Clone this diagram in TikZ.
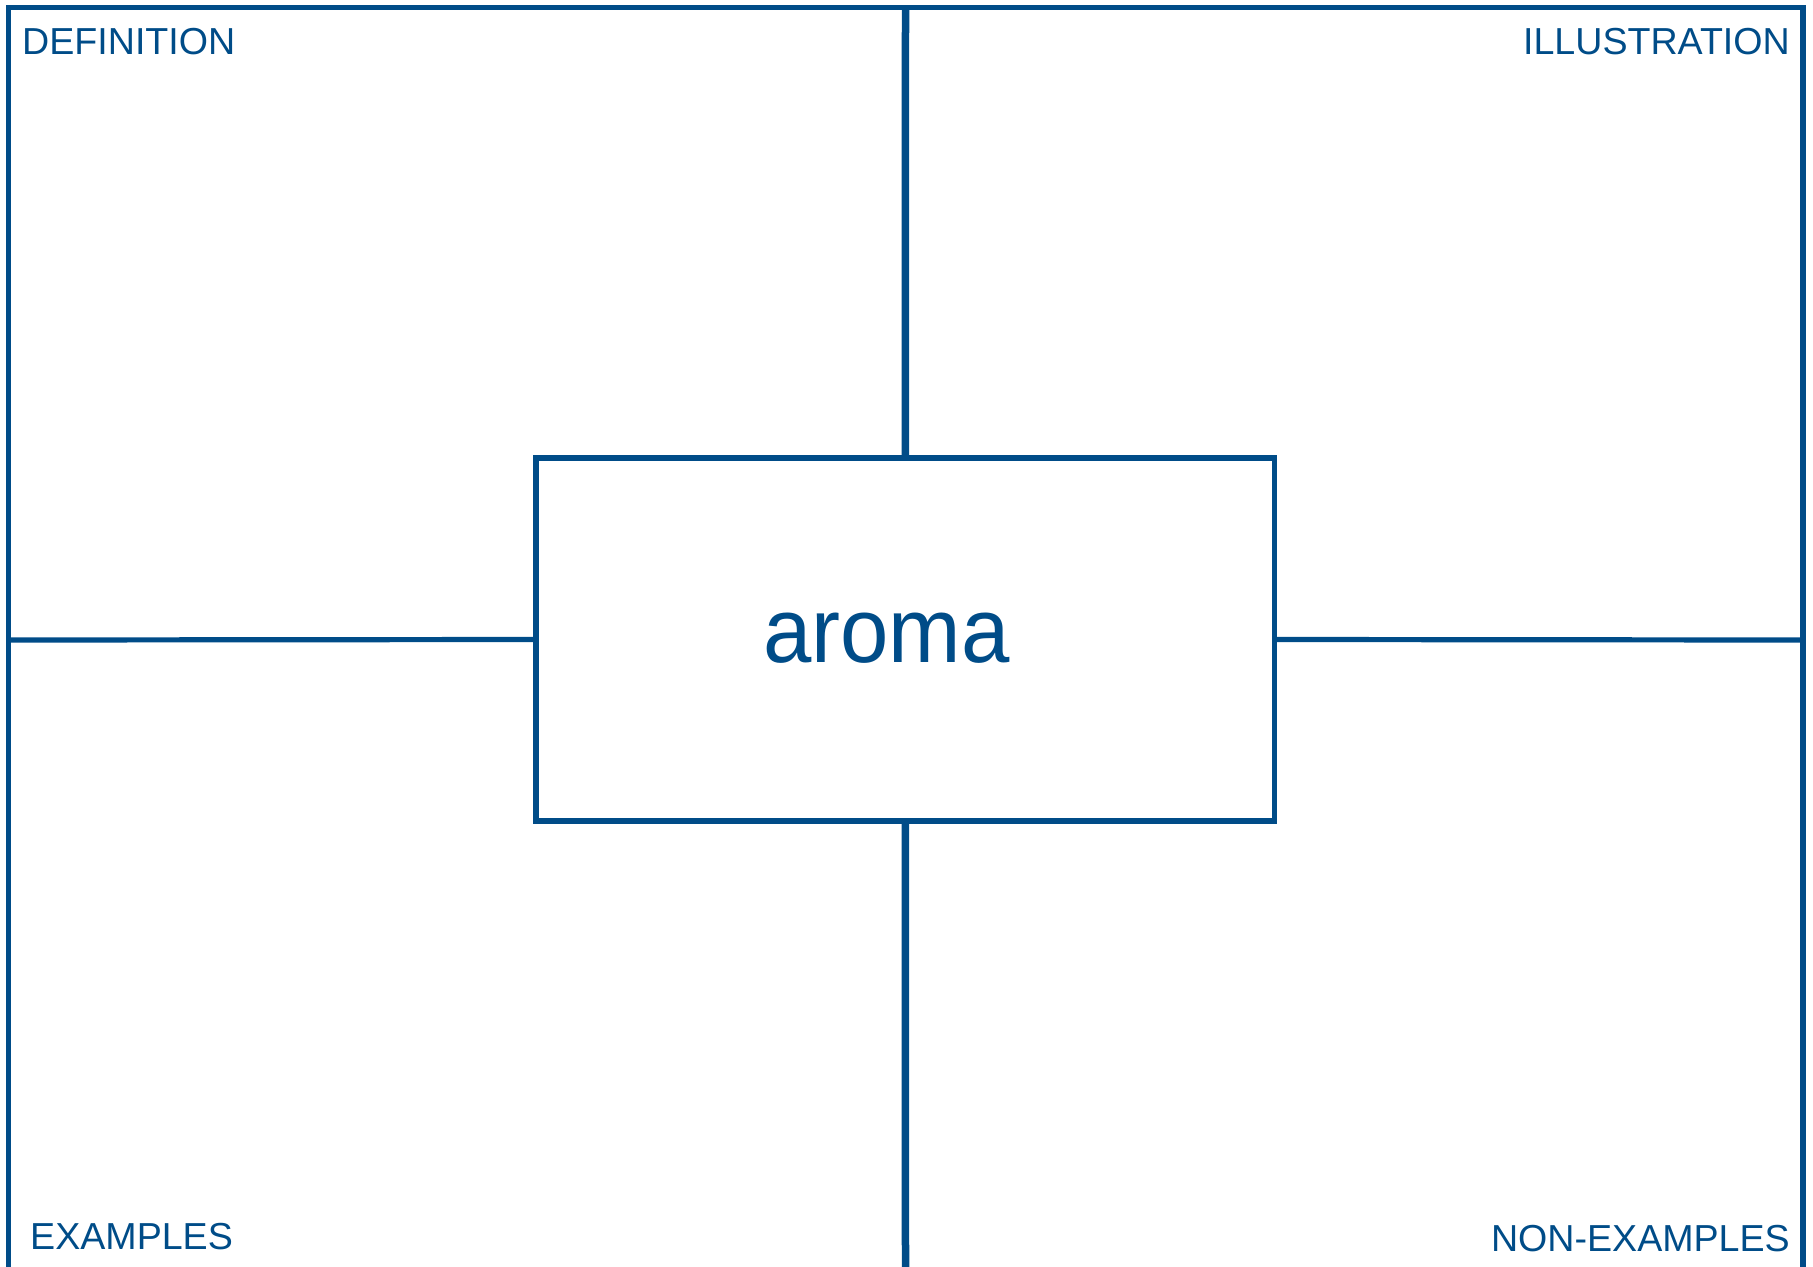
\documentclass[tikz,border=0pt]{standalone}
\usepackage{fontspec}
\setmainfont{Liberation Sans}
\definecolor{frameblue}{RGB}{0,76,136}
\begin{document}
\begin{tikzpicture}[x=1bp,y=-1bp,
  frame/.style={draw=frameblue,line width=5.2bp},
  axis/.style={draw=frameblue,line width=7.5bp},
  label/.style={text=frameblue,inner sep=0pt,font=\fontsize{37.6bp}{42bp}\selectfont},
  wordbox/.style={draw=frameblue,line width=5.3bp,minimum width=738.5bp,minimum height=363bp,inner sep=0pt,fill=white}]
\useasboundingbox (0,0) rectangle (1813,1266);
\coordinate (tl) at (8.5,7.5);
\coordinate (tr) at (1803,7.5);
\coordinate (bl) at (8.5,1270);
\coordinate (br) at (1803,1270);
\coordinate (ttop) at (905.5,7.5);
\coordinate (tbot) at (905.5,1270);
\coordinate (mleft) at (8.5,640);
\coordinate (mright) at (1803,640);
\node[wordbox] (box) at (905.3,639.5) {};
\draw[frame] (bl) -- (tl) -- (tr) -- (br);
\draw[axis] (box.north) -- (ttop);
\draw[axis] (box.south) -- (tbot);
\draw[frame] (box.west) -- (mleft);
\draw[frame] (box.east) -- (mright);
\node[text=frameblue,inner sep=0pt,anchor=base west,xscale=0.945,font=\fontsize{92bp}{100bp}\selectfont] (word) at (763,662) {aroma};
\node[label,anchor=base west] (def) at (22,54) {DEFINITION};
\node[label,anchor=base east] (ill) at (1790,54) {ILLUSTRATION};
\node[label,anchor=base west] (ex) at (30,1249) {EXAMPLES};
\node[label,anchor=base east] (nonex) at (1790,1251) {NON-EXAMPLES};
\end{tikzpicture}
\end{document}
